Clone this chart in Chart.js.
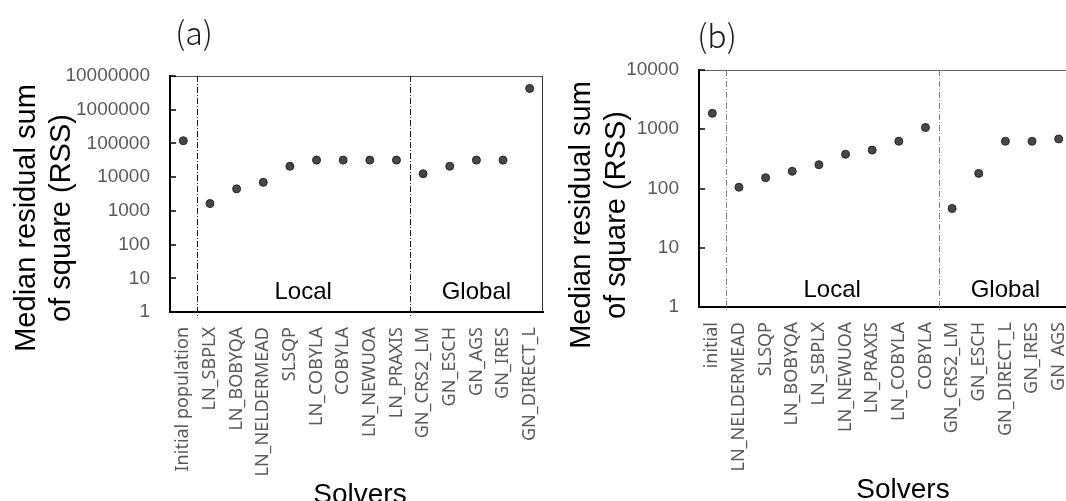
<!DOCTYPE html>
<html><head><meta charset="utf-8">
<script src="https://cdn.jsdelivr.net/npm/chart.js@4.4.1/dist/chart.umd.min.js"></script>
<style>
html,body{margin:0;padding:0;background:#fff;overflow:hidden;width:1066px;height:501px;}
canvas{position:absolute;top:0;}
#ca{left:0;}
#cb{left:540px;}
</style></head><body>
<canvas id="ca" width="550" height="501"></canvas>
<canvas id="cb" width="540" height="501"></canvas>
<script>
// ---- data ----
const solversA = ['Initial population','LN_SBPLX','LN_BOBYQA','LN_NELDERMEAD','SLSQP','LN_COBYLA','COBYLA','LN_NEWUOA','LN_PRAXIS','GN_CRS2_LM','GN_ESCH','GN_AGS','GN_IRES','GN_DIRECT_L'];
const rssA = [120000,1650,4500,7000,21000,32000,32000,32000,32000,12600,21000,32000,32000,4270000];
const solversB = ['initial','LN_NELDERMEAD','SLSQP','LN_BOBYQA','LN_SBPLX','LN_NEWUOA','LN_PRAXIS','LN_COBYLA','COBYLA','GN_CRS2_LM','GN_ESCH','GN_DIRECT_L','GN_IRES','GN_AGS'];
const rssB = [1860,105,152,195,252,378,445,627,1070,46,180,627,627,686];
const yTicksA = [1,10,100,1000,10000,100000,1000000,10000000];
const yTicksB = [1,10,100,1000,10000];
const groupLabels = ['Local','Global'];
const groupBounds = [0.5, 8.5];
const yTitle = ['Median residual sum','of square (RSS)'];
const xTitle = 'Solvers';
const panelLabels = ['(a)','(b)'];

const SANS = '"Liberation Sans", Arial, sans-serif';

function decor(cfg){
  return {
    id:'decor',
    beforeDatasetsDraw(chart){
      const {ctx, chartArea:a, scales:{x,y}} = chart;
      ctx.save();
      // top / right frame
      ctx.lineWidth = 1;
      ctx.strokeStyle = cfg.topColor;
      ctx.beginPath(); ctx.moveTo(a.left, a.top+0.5); ctx.lineTo(a.right, a.top+0.5); ctx.stroke();
      if (cfg.rightBorder){
        ctx.strokeStyle = '#333';
        ctx.beginPath(); ctx.moveTo(a.right-0.5, a.top); ctx.lineTo(a.right-0.5, a.bottom); ctx.stroke();
      }
      // inner y ticks
      ctx.strokeStyle = '#000'; ctx.lineWidth = 1.5;
      y.ticks.forEach(t=>{
        const py = Math.round(y.getPixelForValue(t.value));
        ctx.beginPath(); ctx.moveTo(a.left, py); ctx.lineTo(a.left+6, py); ctx.stroke();
      });
      // group separators
      ctx.strokeStyle = cfg.sepColor; ctx.lineWidth = 1; ctx.setLineDash([6,2,1,2]);
      groupBounds.forEach(b=>{
        const px = Math.round(x.getPixelForValue(b))+0.5;
        ctx.beginPath(); ctx.moveTo(px, a.top); ctx.lineTo(px, a.bottom+5); ctx.stroke();
      });
      ctx.setLineDash([]);
      // group labels
      const n = chart.data.labels.length;
      const edges = [groupBounds[0], groupBounds[1], n-0.5];
      ctx.fillStyle = '#000';
      ctx.font = '24px ' + SANS;
      ctx.textAlign = 'center'; ctx.textBaseline = 'alphabetic';
      groupLabels.forEach((g,i)=>{
        const px = x.getPixelForValue((edges[i]+edges[i+1])/2);
        ctx.fillText(g, px, a.bottom - cfg.groupOff);
      });
      // x title
      ctx.font = '28px ' + SANS;
      ctx.fillText(xTitle, cfg.xTitleX, cfg.xTitleY);
      // y title
      ctx.font = '29px ' + SANS;
      yTitle.forEach((t,i)=>{
        ctx.save();
        ctx.translate(cfg.yTitleX[i], cfg.yTitleY);
        ctx.rotate(-Math.PI/2);
        ctx.fillText(t, 0, 0);
        ctx.restore();
      });
      // panel label
      ctx.fillStyle = '#1a1a1a';
      ctx.font = '300 32px "Noto Sans CJK JP", "Noto Sans", sans-serif';
      ctx.textBaseline = 'middle';
      ctx.fillText(cfg.panel, cfg.panelX, cfg.panelY);
      ctx.restore();
    }
  };
}

function makeChart(id, labels, values, yTicks, ymax, lay, cfg){
  return new Chart(document.getElementById(id), {
    type:'line',
    data:{labels:labels, datasets:[{data:values, showLine:false,
      pointRadius:4, pointHoverRadius:4, pointBackgroundColor:'#474747',
      pointBorderColor:'#262626', pointBorderWidth:1}]},
    options:{
      responsive:false, animation:false, devicePixelRatio:1,
      layout:{padding:{left:0, top:lay.top, right:lay.right, bottom:0}},
      plugins:{legend:{display:false}, tooltip:{enabled:false}},
      scales:{
        x:{type:'category', offset:true,
          grid:{display:true, drawOnChartArea:false, drawTicks:false},
          border:{display:true, color:'#000', width:2},
          ticks:{autoSkip:false, minRotation:90, maxRotation:90, padding:15,
            color:'#595959', font:{family:'"Noto Sans", sans-serif', size:18}},
          afterFit(s){ s.height = lay.xh; s.paddingLeft = 0; s.paddingRight = 0; }
        },
        y:{type:'logarithmic', min:1, max:ymax,
          grid:{display:true, drawOnChartArea:false, drawTicks:false},
          border:{display:true, color:'#000', width:2},
          afterBuildTicks(s){ s.ticks = yTicks.map(v=>({value:v})); },
          ticks:{padding:20, color:'#595959', font:{family:SANS, size:19},
            callback:(v)=>String(v)},
          afterFit(s){ s.width = lay.yw; s.paddingTop = 0; s.paddingBottom = 0; }
        }
      }
    },
    plugins:[decor(cfg)]
  });
}

makeChart('ca', solversA, rssA, yTicksA, 10000000,
  {top:76, right:7, xh:189, yw:170},
  {topColor:'#555', rightBorder:true, sepColor:'#1a1a1a', groupOff:13,
   xTitleX:360, xTitleY:503, yTitleX:[35,70], yTitleY:218,
   panel:panelLabels[0], panelX:194, panelY:33});

makeChart('cb', solversB, rssB, yTicksB, 10000,
  {top:70, right:8, xh:194, yw:159},
  {topColor:'#666', rightBorder:false, sepColor:'#7f7f7f', groupOff:10,
   xTitleX:363, xTitleY:498, yTitleX:[50,85], yTitleY:215,
   panel:panelLabels[1], panelX:177, panelY:36});
</script>
</body></html>
